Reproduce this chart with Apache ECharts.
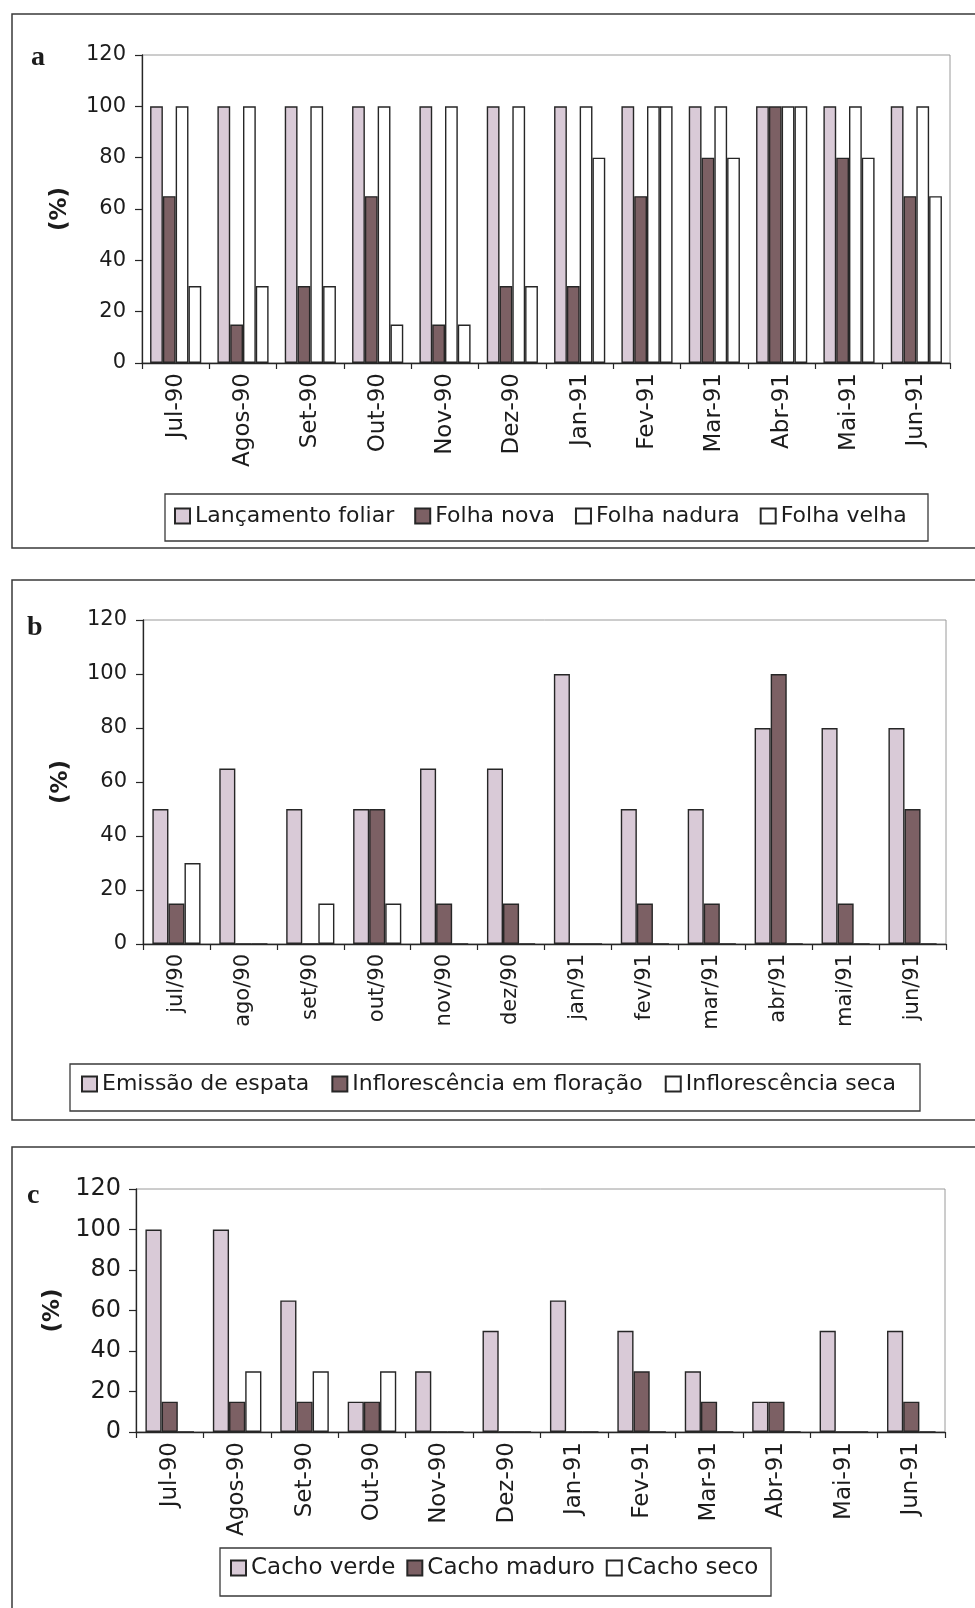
<!DOCTYPE html>
<html>
<head>
<meta charset="utf-8">
<script src="https://cdn.jsdelivr.net/npm/echarts@6/dist/echarts.min.js"></script>
<style>
html,body{margin:0;padding:0;background:#fff;}
#chart{width:975px;height:1608px;}
</style>
</head>
<body>
<div id="chart"></div>
<script>
// ---- Data ----
const catsA = ['Jul-90','Agos-90','Set-90','Out-90','Nov-90','Dez-90','Jan-91','Fev-91','Mar-91','Abr-91','Mai-91','Jun-91'];
const lancamentoFoliar = [100,100,100,100,100,100,100,100,100,100,100,100];
const folhaNova        = [65,15,30,65,15,30,30,65,80,100,80,65];
const folhaNadura      = [100,100,100,100,100,100,100,100,100,100,100,100];
const folhaVelha       = [30,30,30,15,15,30,80,100,80,100,80,65];

const catsB = ['jul/90','ago/90','set/90','out/90','nov/90','dez/90','jan/91','fev/91','mar/91','abr/91','mai/91','jun/91'];
const emissaoEspata    = [50,65,50,50,65,65,100,50,50,80,80,80];
const inflFloracao     = [15,0,0,50,15,15,0,15,15,100,15,50];
const inflSeca         = [30,0,15,15,0,0,0,0,0,0,0,0];

const catsC = ['Jul-90','Agos-90','Set-90','Out-90','Nov-90','Dez-90','Jan-91','Fev-91','Mar-91','Abr-91','Mai-91','Jun-91'];
const cachoVerde       = [100,100,65,15,30,50,65,50,30,15,50,50];
const cachoMaduro      = [15,15,15,15,0,0,0,30,15,15,0,15];
const cachoSeco        = [0,30,30,30,0,0,0,0,0,0,0,0];

const yTicks = [0,20,40,60,80,100,120];

// ---- Styles ----
const FONT = 'DejaVu Sans';
const LIGHT = '#d9cad7';
const DARK = '#7c6064';
const WHITE = '#ffffff';
const EDGE = '#262626';
const TXT = '#1c1c1c';

function yAxis(gridIndex, fs, margin){
  return {
    type:'value', gridIndex, min:yTicks[0], max:yTicks[yTicks.length-1], interval:20,
    name:'(%)', nameLocation:'middle', nameGap:70, nameRotate:90,
    nameTextStyle:{fontFamily:FONT, fontWeight:'bold', fontSize:23, color:TXT},
    axisLine:{show:true, lineStyle:{color:EDGE, width:1.3}},
    axisTick:{show:true, length:7, lineStyle:{color:EDGE, width:1.2}},
    axisLabel:{fontFamily:FONT, fontSize:fs, color:TXT, margin},
    splitLine:{show:false}
  };
}
function xAxis(gridIndex, data, fs){
  return {
    type:'category', gridIndex, data,
    axisLine:{show:true, lineStyle:{color:EDGE, width:1.3}},
    axisTick:{show:true, length:6, lineStyle:{color:EDGE, width:1.2}},
    axisLabel:{rotate:90, interval:0, margin:10, fontFamily:FONT, fontSize:fs, color:TXT}
  };
}
function bar(name, data, color, axisIdx, catGap){
  return {
    type:'bar', name, data, xAxisIndex:axisIdx, yAxisIndex:axisIdx,
    barGap:'0%', barCategoryGap:catGap,
    itemStyle:{color, borderColor:EDGE, borderWidth:1.4},
    emphasis:{disabled:true}
  };
}
function legend(names, left, top, fontSize, gap){
  return {
    data:names, left, top, orient:'horizontal', padding:0,
    itemWidth:15, itemHeight:15, itemGap:gap, icon:'rect',
    textStyle:{fontFamily:FONT, fontSize, color:TXT, lineHeight:26},
    selectedMode:false
  };
}

const chart = echarts.init(document.getElementById('chart'), null, {renderer:'canvas'});
chart.setOption({
  animation:false,
  backgroundColor:'#ffffff',
  grid:[
    {left:142, top:55, width:808, height:308, show:true, borderColor:'#9a9a9a', borderWidth:1, containLabel:false},
    {left:143, top:620, width:803, height:324, show:true, borderColor:'#9a9a9a', borderWidth:1, containLabel:false},
    {left:136, top:1189, width:809, height:243, show:true, borderColor:'#9a9a9a', borderWidth:1, containLabel:false}
  ],
  xAxis:[xAxis(0,catsA,23), xAxis(1,catsB,21), xAxis(2,catsC,23)],
  yAxis:[yAxis(0,21,16), yAxis(1,21,16), yAxis(2,24,15)],
  legend:[
    legend(['Lançamento foliar','Folha nova','Folha nadura','Folha velha'], 174, 503, 22, 20),
    legend(['Emissão de espata','Inflorescência em floração','Inflorescência seca'], 81, 1071, 22, 22),
    legend(['Cacho verde','Cacho maduro','Cacho seco'], 230, 1555, 23, 11)
  ],
  series:[
    bar('Lançamento foliar', lancamentoFoliar, LIGHT, 0, '24%'),
    bar('Folha nova', folhaNova, DARK, 0, '24%'),
    bar('Folha nadura', folhaNadura, WHITE, 0, '24%'),
    bar('Folha velha', folhaVelha, WHITE, 0, '24%'),
    bar('Emissão de espata', emissaoEspata, LIGHT, 1, '28%'),
    bar('Inflorescência em floração', inflFloracao, DARK, 1, '28%'),
    bar('Inflorescência seca', inflSeca, WHITE, 1, '28%'),
    bar('Cacho verde', cachoVerde, LIGHT, 2, '28%'),
    bar('Cacho maduro', cachoMaduro, DARK, 2, '28%'),
    bar('Cacho seco', cachoSeco, WHITE, 2, '28%')
  ],
  graphic:[
    {type:'rect', silent:true, z:-1, shape:{x:12, y:14, width:990, height:534}, style:{fill:'none', stroke:'#3a3a3a', lineWidth:1.5}},
    {type:'rect', silent:true, z:-1, shape:{x:12, y:580, width:990, height:540}, style:{fill:'none', stroke:'#3a3a3a', lineWidth:1.5}},
    {type:'rect', silent:true, z:-1, shape:{x:12, y:1147, width:990, height:480}, style:{fill:'none', stroke:'#3a3a3a', lineWidth:1.5}},
    {type:'rect', silent:true, z:-1, shape:{x:165, y:494, width:763, height:47}, style:{fill:'none', stroke:'#3a3a3a', lineWidth:1.3}},
    {type:'rect', silent:true, z:-1, shape:{x:70, y:1064, width:850, height:47}, style:{fill:'none', stroke:'#3a3a3a', lineWidth:1.3}},
    {type:'rect', silent:true, z:-1, shape:{x:220, y:1548, width:551, height:48}, style:{fill:'none', stroke:'#3a3a3a', lineWidth:1.3}},
    {type:'text', silent:true, x:31, y:44, style:{text:'a', font:'bold 28px "Liberation Serif"', fill:TXT, textVerticalAlign:'alphabetic'}},
    {type:'text', silent:true, x:27, y:614, style:{text:'b', font:'bold 28px "Liberation Serif"', fill:TXT, textVerticalAlign:'alphabetic'}},
    {type:'text', silent:true, x:27, y:1182, style:{text:'c', font:'bold 28px "Liberation Serif"', fill:TXT, textVerticalAlign:'alphabetic'}}
  ]
});
</script>
</body>
</html>
